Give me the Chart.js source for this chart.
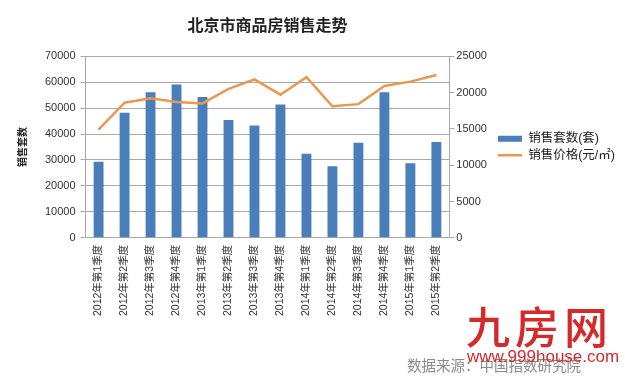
<!DOCTYPE html>
<html>
<head>
<meta charset="utf-8">
<script src="https://cdn.jsdelivr.net/npm/chart.js@4.4.0/dist/chart.umd.min.js"></script>
<style>
    html, body { margin: 0; padding: 0; background: #fff; }
    #wrap { position: relative; width: 625px; height: 376px; }
    #chart { position: absolute; left: 0; top: 0; }
    .mark { position: absolute; white-space: nowrap; }
    #source { left: 407px; top: 354px; font: 14.5px 'Noto Sans CJK SC', sans-serif; color: #8a8a8a; }
    #logo { left: 466px; top: 293px; font: 500 44px 'Noto Sans CJK SC', sans-serif; color: #d42a2a; letter-spacing: 5px; }
    #site { left: 467px; top: 347px; font: 17px 'Liberation Sans', sans-serif; color: #d42a2a; }
</style>
</head>
<body>
<div id="wrap">
    <canvas id="chart" width="625" height="376"></canvas>
    <div class="mark" id="source">数据来源：中国指数研究院</div>
    <div class="mark" id="logo">九房网</div>
    <div class="mark" id="site">www.999house.com</div>
</div>
<script>
// categorías (trimestres)
const quarters = [
    '2012年第1季度', '2012年第2季度', '2012年第3季度', '2012年第4季度',
    '2013年第1季度', '2013年第2季度', '2013年第3季度', '2013年第4季度',
    '2014年第1季度', '2014年第2季度', '2014年第3季度', '2014年第4季度',
    '2015年第1季度', '2015年第2季度'
];
// 销售套数(套)
const salesUnits = [29300, 48200, 56100, 59100, 54300, 45400, 43300, 51400, 32400, 27600, 36600, 56100, 28700, 36900];
// 销售价格(元/㎡)
const salesPrice = [14900, 18600, 19200, 18700, 18500, 20500, 21800, 19700, 22100, 18100, 18400, 20900, 21500, 22400];

const leftTicks = [0, 70000, 10000];   // min, max, step
const rightTicks = [0, 25000, 5000];

const gridGray = '#a9a9a9';
const fontFamily = "'Liberation Sans', 'Noto Sans CJK SC', sans-serif";

function createSalesChart() {
    const ctx = document.getElementById('chart').getContext('2d');
    const chartData = {
        labels: quarters,
        datasets: [
            {
                type: 'bar',
                label: '销售套数(套)',
                data: salesUnits,
                backgroundColor: '#4a7ebb',
                borderWidth: 0,
                barPercentage: 0.38,
                categoryPercentage: 1,
                yAxisID: 'y',
                order: 1,
            },
            {
                type: 'line',
                label: '销售价格(元/㎡)',
                data: salesPrice,
                borderColor: '#eb984e',
                backgroundColor: '#eb984e',
                borderWidth: 2.5,
                pointRadius: 0,
                tension: 0,
                yAxisID: 'y1',
                order: 0,
            },
        ],
    };
    const chartOptions = {
        responsive: false,
        animation: false,
        layout: {
            padding: { left: 16, right: 0, top: 0, bottom: 53 },
        },
        plugins: {
            title: {
                display: true,
                text: '北京市商品房销售走势',
                fullSize: false,
                color: '#222',
                font: { family: "'Noto Sans CJK SC', sans-serif", size: 16, weight: 'bold' },
                padding: { top: 15, bottom: 22 },
            },
            legend: {
                position: 'right',
                fullSize: false,
                maxWidth: 160,
                labels: {
                    usePointStyle: true,
                    pointStyleWidth: 24,
                    boxHeight: 6,
                    padding: 4,
                    color: '#222',
                    font: { family: fontFamily, size: 12.5 },
                    sort: (a, b) => a.datasetIndex - b.datasetIndex,
                    generateLabels: (chart) => {
                        const items = Chart.defaults.plugins.legend.labels.generateLabels(chart);
                        items.forEach((item) => {
                            item.pointStyle = item.datasetIndex === 0 ? 'rect' : 'line';
                        });
                        return items;
                    },
                },
            },
            tooltip: { enabled: false },
        },
        scales: {
            x: {
                grid: { display: false, drawTicks: false },
                border: { color: gridGray },
                ticks: {
                    autoSkip: false,
                    minRotation: 90,
                    maxRotation: 90,
                    padding: 7,
                    color: '#333',
                    font: { family: fontFamily, size: 10.5 },
                },
            },
            y: {
                position: 'left',
                min: leftTicks[0],
                max: leftTicks[1],
                grid: { color: gridGray, tickLength: 5 },
                border: { color: gridGray },
                ticks: {
                    stepSize: leftTicks[2],
                    padding: 5,
                    color: '#333',
                    font: { family: fontFamily, size: 11 },
                    callback: (value) => String(value),
                },
                title: {
                    display: true,
                    text: '销售套数',
                    color: '#222',
                    font: { family: "'Noto Sans CJK SC', sans-serif", size: 10, weight: 'bold' },
                    padding: { top: 0, bottom: 12 },
                },
            },
            y1: {
                position: 'right',
                min: rightTicks[0],
                max: rightTicks[1],
                grid: { drawOnChartArea: false, color: gridGray, tickLength: 5 },
                border: { color: gridGray },
                ticks: {
                    stepSize: rightTicks[2],
                    padding: 2,
                    color: '#333',
                    font: { family: fontFamily, size: 11 },
                    callback: (value) => String(value),
                },
                // deja un hueco entre las etiquetas y la leyenda
                afterFit: (scale) => {
                    scale.width += 5;
                },
            },
        },
    };

    new Chart(ctx, {
        data: chartData,
        options: chartOptions,
    });
}

// esperar a las fuentes para que el ancho de la leyenda se mida bien
Promise.all([
    document.fonts.load("13px 'Noto Sans CJK SC'", '销售价格元'),
    document.fonts.load("bold 16px 'Noto Sans CJK SC'", '北京市'),
    document.fonts.load("13px 'Liberation Sans'", '0123456789()'),
]).then(createSalesChart, createSalesChart);
</script>
</body>
</html>
